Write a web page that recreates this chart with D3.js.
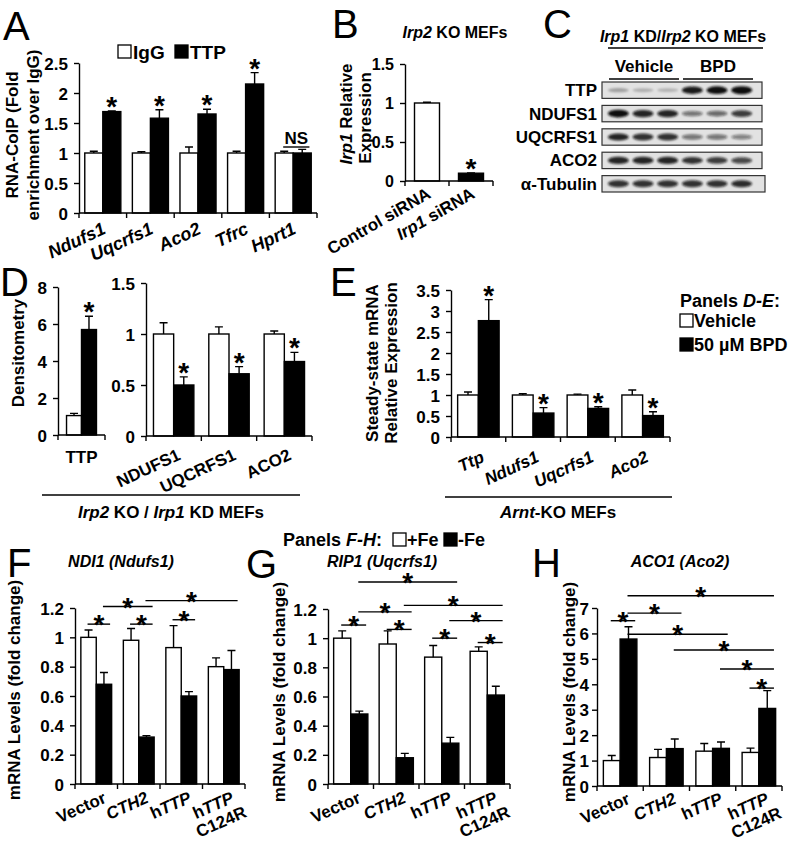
<!DOCTYPE html>
<html><head><meta charset="utf-8">
<script src="https://cdn.jsdelivr.net/npm/d3@7"></script>
<style>
body{margin:0;background:#fff}
svg text{font-family:"Liberation Sans",Arial,sans-serif;font-weight:bold;fill:#000}
</style></head><body>
<script>
// ---------------- DATA ----------------
// Panel A
const aCats = ["<i>Ndufs1</i>","<i>Uqcrfs1</i>","<i>Aco2</i>","<i>Tfrc</i>","<i>Hprt1</i>"];
const aIgG = [1,1,1,1,1];
const aIgGErr = [0.03,0.02,0.1,0.03,0.03];
const aTTP = [1.69,1.58,1.65,2.15,1.0];
const aTTPErr = [0.01,0.14,0.08,0.19,0.06];
const aTicks = [0,0.5,1,1.5,2,2.5];
const aTickLabels = ["0","0.5","1","1.5","2","2.5"];
const aStars = [[0,1,"*"],[1,1,"*"],[2,1,"*"],[3,1,"*"]];
const aNS = [[4,0,4,1,1.1,"NS"]];
// Panel B
const bCats = ["Control siRNA","<i>Irp1</i> siRNA"];
const bValues = [1.0,0.1];
const bErr = [0.01,0.004];
const bTicks = [0,0.5,1,1.5];
const bTickLabels = ["0","0.5","1","1.5"];
// Panel C (blot band intensities, 0-1)
const cProteins = ["TTP","NDUFS1","UQCRFS1","ACO2","α-Tubulin"];
const cGroups = ["Vehicle","BPD"];
const cLaneGroup = [0,0,0,1,1,1];
const cBands = [
  [0.28,0.22,0.2,0.9,0.95,1.0],
  [0.95,0.85,0.85,0.5,0.55,0.75],
  [0.85,0.8,0.8,0.5,0.5,0.45],
  [0.85,0.85,0.85,0.8,0.75,0.7],
  [0.8,0.8,0.8,0.8,0.8,0.82]
];
// Panel D
const dCatsL = ["TTP"];
const dVehL = [1.05], dVehLErr = [0.12];
const dBpdL = [5.7], dBpdLErr = [0.72];
const dTicksL = [0,2,4,6,8], dTickLabelsL = ["0","2","4","6","8"];
const dCatsR = ["NDUFS1","UQCRFS1","ACO2"];
const dVehR = [1,1,1], dVehRErr = [0.11,0.07,0.03];
const dBpdR = [0.5,0.61,0.73], dBpdRErr = [0.08,0.07,0.09];
const dTicksR = [0,0.5,1,1.5], dTickLabelsR = ["0","0.5","1","1.5"];
// Panel E
const eCats = ["<i>Ttp</i>","<i>Ndufs1</i>","<i>Uqcrfs1</i>","<i>Aco2</i>"];
const eVeh = [1,1,1,1], eVehErr = [0.07,0.03,0.02,0.12];
const eBpd = [2.77,0.57,0.68,0.51], eBpdErr = [0.5,0.13,0.04,0.09];
const eTicks = [0,0.5,1,1.5,2,2.5,3,3.5];
const eTickLabels = ["0","0.5","1","1.5","2","2.5","3","3.5"];
// Panels F-H
const fghCats = ["Vector","<i>CTH2</i>","h<i>TTP</i>","h<i>TTP</i>\nC124R"];
const fPlus = [1.0,0.98,0.93,0.80], fPlusErr = [0.05,0.08,0.15,0.06];
const fMinus = [0.68,0.32,0.60,0.78], fMinusErr = [0.08,0.01,0.03,0.13];
const fBrackets = [[0,0,0,1,1.09],[0,1,1,1,1.21],[1,0,1,1,1.09],[2,0,2,1,1.12],[1,1,3,1,1.25]];
const gPlus = [1.0,0.96,0.87,0.91], gPlusErr = [0.05,0.09,0.08,0.03];
const gMinus = [0.48,0.18,0.28,0.61], gMinusErr = [0.02,0.03,0.04,0.06];
const gBrackets = [[0,0,0,1,1.09],[0,1,1,1,1.18],[1,0,1,1,1.06],[0,1,2,1,1.385],[1,1,3,1,1.225],[2,0,2,1,1.0],[2,1,3,1,1.12],[3,0,3,1,0.97]];
const fgTicks = [0,0.2,0.4,0.6,0.8,1,1.2], fgTickLabels = ["0","0.2","0.4","0.6","0.8","1","1.2"];
const hPlus = [1.0,1.12,1.37,1.32], hPlusErr = [0.2,0.32,0.3,0.17];
const hMinus = [5.78,1.47,1.48,3.05], hMinusErr = [0.48,0.38,0.25,0.7];
const hBrackets = [[0,0,0,1,6.5],[0,1,3,1,7.48],[0,1,1,1,6.8],[0,1,2,1,5.97],[1,1,3,1,5.35],[2,1,3,1,4.6],[3,0,3,1,3.85]];
const hTicks = [0,1,2,3,4,5,6,7], hTickLabels = ["0","1","2","3","4","5","6","7"];

// ---------------- DRAWING ----------------
const svg = d3.select("body").append("svg").attr("width",796).attr("height",845);
svg.append("defs").append("filter").attr("id","blur")
  .attr("x","-30%").attr("y","-150%").attr("width","160%").attr("height","400%")
  .append("feGaussianBlur").attr("stdDeviation",1.1);

function rich(t, str, lineDx){
  str.split("\n").forEach((ln,li)=>{
    ln.split(/(<i>.*?<\/i>)/).filter(s=>s.length).forEach((p,pi)=>{
      const it = p.startsWith("<i>");
      const ts = t.append("tspan").text(it ? p.slice(3,-4) : p);
      if (it) ts.style("font-style","italic");
      if (pi===0 && li>0) ts.attr("x",lineDx||0).attr("dy","1.08em");
    });
  });
}
function addText(parent,x,y,str,o={}){
  const t = parent.append("text")
    .attr("transform",`translate(${x},${y})`+(o.rot?` rotate(${o.rot})`:""))
    .attr("text-anchor",o.anchor||"start").attr("font-size",o.size||16);
  if (o.weight) t.style("font-weight",o.weight);
  rich(t,str,o.lineDx);
  return t;
}
const K = "#000", SW = 1.4;

function barChart(o){
  const g = svg.append("g");
  const n = o.cats.length;
  const x = d3.scaleBand().domain(d3.range(n)).range([o.x0,o.x1]);
  const y = d3.scaleLinear().domain([0,o.ymax]).range([o.y0,o.y1]);
  const xs = d3.scaleBand().domain(d3.range(o.series.length)).range([0,x.bandwidth()]).paddingOuter(o.pad);
  const bw = xs.bandwidth();
  const cx = (c,s)=>x(c)+xs(s)+bw/2;
  o.series.forEach((s,si)=>{
    const data = s.values.map((v,i)=>({v,e:s.err[i],i,fill:Array.isArray(s.fill)?s.fill[i]:s.fill}));
    g.append("g").selectAll("rect").data(data).join("rect")
      .attr("x",d=>x(d.i)+xs(si)).attr("y",d=>y(d.v)).attr("width",bw).attr("height",d=>y(0)-y(d.v))
      .attr("fill",d=>d.fill).attr("stroke",K).attr("stroke-width",SW);
    g.append("g").selectAll("path").data(data).join("path")
      .attr("d",d=>{const c=cx(d.i,si), t=y(d.v+d.e); return `M${c},${y(d.v)}V${t}M${c-4},${t}H${c+4}`;})
      .attr("stroke",K).attr("stroke-width",SW).attr("fill","none");
  });
  const gy = g.append("g").attr("transform",`translate(${o.x0},0)`)
    .call(d3.axisLeft(y).tickValues(o.ticks).tickFormat((d,i)=>o.tickLabels[i]).tickSize(5).tickSizeOuter(0).tickPadding(o.tpad||6));
  gy.attr("font-size",o.tsize||17).attr("font-family",null);
  gy.selectAll("line,path").attr("stroke",K).attr("stroke-width",SW);
  gy.selectAll("text").attr("dy","0.36em");
  g.append("line").attr("x1",o.x0).attr("x2",o.x1).attr("y1",o.y0).attr("y2",o.y0).attr("stroke",K).attr("stroke-width",SW);
  g.append("g").selectAll("line").data(d3.range(n+1)).join("line")
    .attr("x1",i=>o.x0+i*x.step()).attr("x2",i=>o.x0+i*x.step()).attr("y1",o.y0).attr("y2",o.y0+5)
    .attr("stroke",K).attr("stroke-width",SW);
  o.cats.forEach((c,i)=>{
    const m = x(i)+x.bandwidth()/2;
    if (o.flat) addText(g,m,o.y0+o.ldy,c,{anchor:"middle",size:o.lsize||17});
    else addText(g,m+(o.ldx||4),o.y0+(o.ldy||18),c,{anchor:"end",rot:o.rot||-25,size:o.lsize||17,lineDx:6});
  });
  (o.stars||[]).forEach(([c,s,lab])=>{
    const v = o.series[s].values[c]+o.series[s].err[c];
    addText(g,cx(c,s),y(v)+5,lab,{anchor:"middle",size:28});
  });
  (o.brackets||[]).forEach(([c1,s1,c2,s2,v,lab])=>{
    const yy = y(v), xa = cx(c1,s1)-1, xb = cx(c2,s2)+bw*0.4;
    g.append("line").attr("x1",xa).attr("x2",xb).attr("y1",yy).attr("y2",yy).attr("stroke",K).attr("stroke-width",SW);
    if (lab==="NS") addText(g,(xa+xb)/2,yy-3,"NS",{anchor:"middle",size:17});
    else addText(g,(xa+xb)/2,yy+10,"*",{anchor:"middle",size:28});
  });
  return g;
}
function sq(x,y,fill){ svg.append("rect").attr("x",x).attr("y",y).attr("width",13).attr("height",13).attr("fill",fill).attr("stroke",K).attr("stroke-width",1.3); }
function hline(x1,x2,y){ svg.append("line").attr("x1",x1).attr("x2",x2).attr("y1",y).attr("y2",y).attr("stroke",K).attr("stroke-width",1.4); }

// Panel letters
[["A",3,40],["B",332,38],["C",543,38],["D",0,296],["E",330,296],["F",7,577],["G",246,578],["H",532,577]]
  .forEach(([l,x,y])=>addText(svg,x,y,l,{size:40,weight:"normal"}));

// ---- A ----
barChart({cats:aCats,x0:79,x1:317,y0:213,y1:63,ymax:2.5,pad:0.32,
  series:[{values:aIgG,err:aIgGErr,fill:"#fff"},{values:aTTP,err:aTTPErr,fill:"#000"}],
  ticks:aTicks,tickLabels:aTickLabels,stars:aStars,brackets:aNS,ldx:4,ldy:20,lsize:18});
sq(118,45,"#fff"); addText(svg,133,59,"IgG",{size:19});
sq(175,45,"#000"); addText(svg,190,59,"TTP",{size:19});
addText(svg,18,135,"RNA-CoIP (Fold",{anchor:"middle",rot:-90,size:17});
addText(svg,39,135,"enrichment over IgG)",{anchor:"middle",rot:-90,size:17});

// ---- B ----
barChart({cats:bCats,x0:405,x1:493,y0:181,y1:64,ymax:1.5,pad:0.38,
  series:[{values:bValues,err:bErr,fill:["#fff","#000"]}],
  ticks:bTicks,tickLabels:bTickLabels,stars:[[1,0,"*"]],ldx:5,ldy:16,rot:-30,tsize:16});
addText(svg,455,38,"<i>Irp2</i> KO MEFs",{anchor:"middle",size:16});
addText(svg,352,114,"<i>Irp1</i> Relative",{anchor:"middle",rot:-90,size:17});
addText(svg,371,118,"Expression",{anchor:"middle",rot:-90,size:17});

// ---- C (blot) ----
(function(){
  const cg = svg.append("g");
  const lane = d3.scaleBand().domain(d3.range(cLaneGroup.length)).range([606,754]);
  const row = d3.scaleBand().domain(cProteins).range([82,192]).paddingInner(0.3);
  cProteins.forEach((p,ri)=>{
    const yT = row(p), h = row.bandwidth();
    cg.append("rect").attr("x",602).attr("y",yT).attr("width",ri===4?163:160).attr("height",h)
      .attr("fill","#e2e2e2").attr("stroke","#333").attr("stroke-width",1.2);
    cg.append("g").attr("filter","url(#blur)").selectAll("ellipse").data(cBands[ri]).join("ellipse")
      .attr("cx",(d,i)=>lane(i)+lane.bandwidth()/2).attr("cy",yT+h/2).attr("rx",10.5)
      .attr("ry",d=>1.4+2.6*d).attr("fill","#111").attr("opacity",d=>Math.min(1,d*1.05));
    addText(cg,597,yT+h/2+6,p,{anchor:"end",size:17});
  });
  cGroups.forEach((gname,gi)=>{
    const idx = cLaneGroup.map((v,i)=>v===gi?i:-1).filter(i=>i>=0);
    const a = lane(idx[0])+3, b = lane(idx[idx.length-1])+lane.bandwidth()-1;
    hline(a,b,79);
    addText(cg,(a+b)/2,72,gname,{anchor:"middle",size:17});
  });
  hline(608,763,48);
  addText(cg,683,42,"<i>Irp1</i> KD/<i>Irp2</i> KO MEFs",{anchor:"middle",size:16});
})();

// ---- D ----
barChart({cats:dCatsL,x0:58,x1:105,y0:435,y1:287,ymax:8,pad:0.57,
  series:[{values:dVehL,err:dVehLErr,fill:"#fff"},{values:dBpdL,err:dBpdLErr,fill:"#000"}],
  ticks:dTicksL,tickLabels:dTickLabelsL,stars:[[0,1,"*"]],flat:true,ldy:28});
barChart({cats:dCatsR,x0:146,x1:312,y0:436,y1:283,ymax:1.5,pad:0.37,
  series:[{values:dVehR,err:dVehRErr,fill:"#fff"},{values:dBpdR,err:dBpdRErr,fill:"#000"}],
  ticks:dTicksR,tickLabels:dTickLabelsR,stars:[[0,1,"*"],[1,1,"*"],[2,1,"*"]],ldx:8,ldy:23});
addText(svg,24,353,"Densitometry",{anchor:"middle",rot:-90,size:17});
hline(42,300,495);
addText(svg,171,518,"<i>Irp2</i> KO / <i>Irp1</i> KD MEFs",{anchor:"middle",size:17});

// ---- E ----
barChart({cats:eCats,x0:451,x1:670,y0:437,y1:290,ymax:3.5,pad:0.32,
  series:[{values:eVeh,err:eVehErr,fill:"#fff"},{values:eBpd,err:eBpdErr,fill:"#000"}],
  ticks:eTicks,tickLabels:eTickLabels,stars:[[0,1,"*"],[1,1,"*"],[2,1,"*"],[3,1,"*"]],ldx:7,ldy:24});
addText(svg,378,363,"Steady-state mRNA",{anchor:"middle",rot:-90,size:17});
addText(svg,397,363,"Relative Expression",{anchor:"middle",rot:-90,size:17});
hline(445,672,497);
addText(svg,558,518,"<i>Arnt</i>-KO MEFs",{anchor:"middle",size:17});
addText(svg,680,307,"Panels <i>D-E</i>:",{size:18});
sq(680,314,"#fff"); addText(svg,694,327,"Vehicle",{size:18});
sq(680,338,"#000"); addText(svg,694,351,"50 µM BPD",{size:18});

// ---- F-H legend ----
addText(svg,283,546,"Panels <i>F-H</i>: ",{size:18});
sq(393,533,"#fff"); addText(svg,407,546,"+Fe",{size:18});
sq(444,533,"#000"); addText(svg,458,546,"-Fe",{size:18});

// ---- F ----
barChart({cats:fghCats,x0:75,x1:245,y0:784,y1:608,ymax:1.2,pad:0.38,
  series:[{values:fPlus,err:fPlusErr,fill:"#fff"},{values:fMinus,err:fMinusErr,fill:"#000"}],
  ticks:fgTicks,tickLabels:fgTickLabels,brackets:fBrackets,ldx:11,ldy:18,rot:-24,lsize:17});
addText(svg,121,567,"<i>NDI1 (Ndufs1)</i>",{anchor:"middle",size:16});
addText(svg,20,690,"mRNA Levels (fold change)",{anchor:"middle",rot:-90,size:17});

// ---- G ----
barChart({cats:fghCats,x0:328,x1:510,y0:784,y1:609,ymax:1.2,pad:0.33,
  series:[{values:gPlus,err:gPlusErr,fill:"#fff"},{values:gMinus,err:gMinusErr,fill:"#000"}],
  ticks:fgTicks,tickLabels:fgTickLabels,brackets:gBrackets,ldx:11,ldy:18,rot:-24,lsize:17});
addText(svg,382,567,"<i>RIP1 (Uqcrfs1)</i>",{anchor:"middle",size:16});
addText(svg,285,692,"mRNA Levels (fold change)",{anchor:"middle",rot:-90,size:17});

// ---- H ----
barChart({cats:fghCats,x0:597,x1:782,y0:786,y1:608,ymax:7,pad:0.38,tpad:3,
  series:[{values:hPlus,err:hPlusErr,fill:"#fff"},{values:hMinus,err:hMinusErr,fill:"#000"}],
  ticks:hTicks,tickLabels:hTickLabels,brackets:hBrackets,ldx:11,ldy:17,rot:-24,lsize:17});
addText(svg,680,567,"<i>ACO1 (Aco2)</i>",{anchor:"middle",size:16});
addText(svg,575,692,"mRNA Levels (fold change)",{anchor:"middle",rot:-90,size:17});
</script></body></html>
